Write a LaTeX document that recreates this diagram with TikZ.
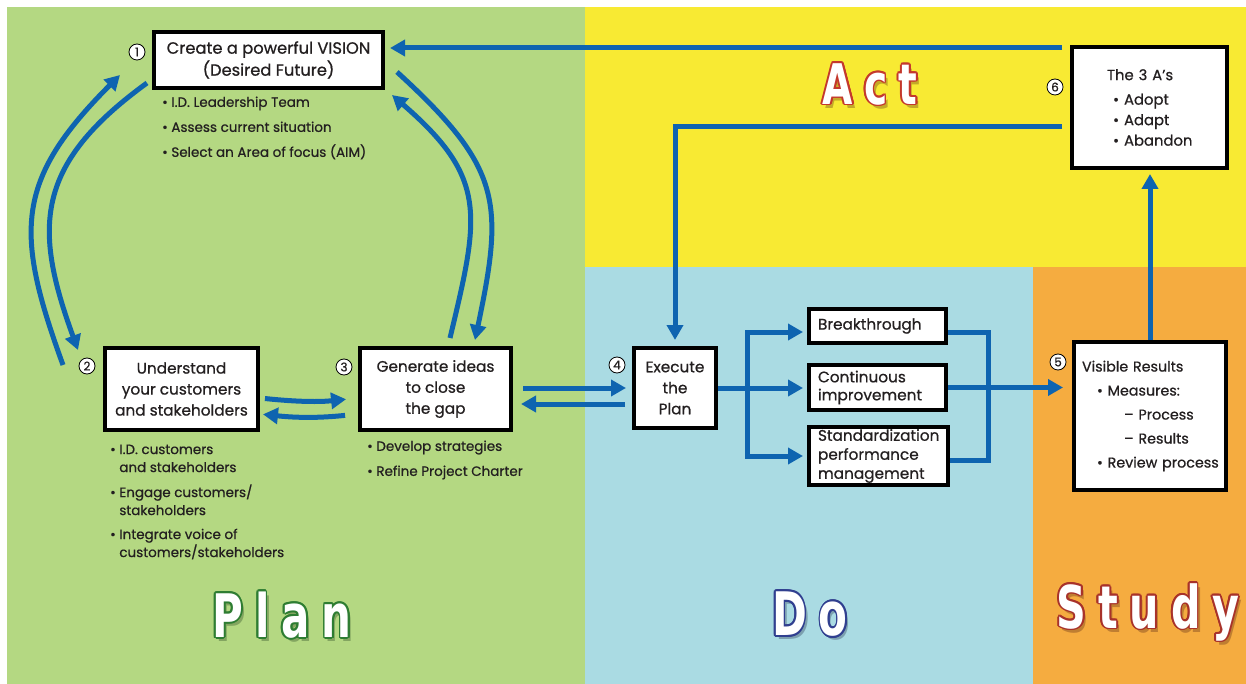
\documentclass[tikz,border=0pt]{standalone}
\usepackage{fontspec}
\setmainfont{Poppins}[FakeBold=0.7]
\newfontfamily\bigfont[FakeStretch=0.7,LetterSpace=20]{DejaVu Sans}
\usetikzlibrary{arrows.meta,calc}
\definecolor{plangreen}{HTML}{B4D882}
\definecolor{actyellow}{HTML}{F8EA33}
\definecolor{doblue}{HTML}{AADBE3}
\definecolor{studyorange}{HTML}{F5AC40}
\definecolor{flowblue}{HTML}{0E64B0}
\definecolor{txt}{HTML}{231F20}
\definecolor{plandark}{HTML}{2E7D32}
\definecolor{dodark}{HTML}{303F8F}
\definecolor{studydark}{HTML}{A8322A}
\definecolor{actdark}{HTML}{C4382C}
\newcommand{\boxfont}{\fontsize{15.3}{21}\selectfont}
\newcommand{\lstfont}{\fontsize{13.5}{18}\selectfont}
\newcommand{\numfont}{\fontsize{12}{12}\selectfont}
\newcommand{\biglabel}[6]{%
  \node[biglbl,font=\bigfont\bfseries\fontsize{#6}{#6}\selectfont,text=black!60!#4,opacity=.3] (#1s) at ({#2+3},{#3-4}) {#5};
  \foreach \a in {0,30,...,330}{\node[biglbl,font=\bigfont\bfseries\fontsize{#6}{#6}\selectfont,text=#4] (#1\a) at ({#2+1.8*cos(\a)},{#3+1.8*sin(\a)}) {#5};}
  \node[biglbl,font=\bigfont\bfseries\fontsize{#6}{#6}\selectfont,text=white] (#1) at (#2,#3) {#5};
}
\begin{document}
\begin{tikzpicture}[x=1pt,y=1pt,
  box/.style={draw=black, line width=4pt, fill=white, inner sep=0pt, font=\boxfont, text=txt, align=center},
  flow/.style={draw=flowblue, line width=5pt},
  arr/.style={flow, -{Triangle[width=16pt,length=15pt]}},
  num/.style={circle, draw=black, line width=0.8pt, fill=white, inner sep=0pt, minimum size=16pt, font=\numfont, text=txt},
  lst/.style={font=\lstfont, text=txt, align=left, inner sep=0pt},
  biglbl/.style={inner sep=0pt}
]
\useasboundingbox (0,0) rectangle (1246,-684);
\fill[white] (0,0) rectangle (1246,-684);
\fill[plangreen] (7,-7) rectangle (585,-684);
\fill[actyellow] (585,-7) rectangle (1246,-267);
\fill[doblue] (585,-267) rectangle (1033,-684);
\fill[studyorange] (1033,-267) rectangle (1246,-684);

% big labels
\biglabel{plan}{282}{-615}{plandark}{Plan}{60}
\biglabel{do}{810}{-614}{dodark}{Do}{60}
\biglabel{study}{1148}{-612}{studydark}{Study}{59}
\biglabel{act}{870}{-84}{actdark}{Act}{56}

% boxes
\node[box, minimum width=229, minimum height=56, font=\fontsize{16.3}{22}\selectfont] (b1) at (268.5,-60) {Create a powerful VISION\\(Desired Future)};
\node[box, minimum width=153, minimum height=82] (b2) at (181.5,-389) {Understand\\your customers\\and stakeholders};
\node[box, minimum width=151, minimum height=82] (b3) at (435.5,-389) {Generate ideas\\to close\\the gap};
\node[box, minimum width=82, minimum height=80] (b4) at (675,-388) {Execute\\the\\Plan};
\node[box, minimum width=137, minimum height=34, text width=119, align=left] (bt) at (877.5,-326) {Breakthrough};
\node[box, minimum width=137, minimum height=45, text width=119, align=left, font=\fontsize{15.3}{18}\selectfont] (ci) at (877.5,-387.5) {Continuous\\improvement};
\node[box, minimum width=139, minimum height=58, text width=121, align=left, font=\fontsize{15.3}{19}\selectfont] (sp) at (878.5,-456) {Standardization\\performance\\management};
\node[box, minimum width=152, minimum height=148, text width=136, align=left, font=\fontsize{14.3}{24}\selectfont] (vr) at (1150,-416) {\mbox{Visible Results}\\
\mbox{\hspace*{15pt}• Measures:}\\
\mbox{\hspace*{42pt}– Process}\\
\mbox{\hspace*{42pt}– Results}\\
\mbox{\hspace*{15pt}• Review process}};
\node[box, minimum width=155, minimum height=121, text width=85, align=left, font=\fontsize{14.8}{20.5}\selectfont] (a3) at (1149.5,-107.5) {\mbox{The 3 A’s}\\[4pt]
\mbox{\hspace*{6pt}• Adopt}\\
\mbox{\hspace*{6pt}• Adapt}\\
\mbox{\hspace*{6pt}• Abandon}};

% numbers
\node[num] (n1) at (137,-52) {1};
\node[num] (n2) at (87,-366) {2};
\node[num] (n3) at (344,-367) {3};
\node[num] (n4) at (617,-365) {4};
\node[num] (n5) at (1058,-362) {5};
\node[num] (n6) at (1055,-87) {6};

% lists
\node[lst, anchor=west] (l1) at (162,-128) {• I.D. Leadership Team\\[7pt]• Assess current situation\\[7pt]• Select an Area of focus (AIM)};
\node[lst, anchor=west] (l2) at (110,-502) {• I.D. customers\\
\phantom{• }and stakeholders\\[7pt]
• Engage customers/\\
\phantom{• }stakeholders\\[6pt]
• Integrate voice of\\
\phantom{• }customers/stakeholders};
\node[lst, anchor=west] (l3) at (367,-460) {• Develop strategies\\[7pt]• Refine Project Charter};

% top feedback arrows
\coordinate (t1) at (1062,-48);
\coordinate (t2) at (1062,-127);
\draw[arr, shorten >=5pt] (t1) -- (t1 -| b1.east);
\draw[arr, shorten >=6pt] (t2) -- (t2 -| b4.north) -- (b4.north);
\draw[arr, shorten >=4pt] (vr.north) -- (vr.north |- a3.south);

% branches
\coordinate (jt) at (747,-332);
\coordinate (jb) at (747,-456);
\coordinate (ct) at (988,-332);
\coordinate (cb) at (988,-460);
\draw[arr, shorten >=4pt] (jb) -- (jt) -- (jt -| bt.west);
\draw[arr, shorten >=4pt] (jt) -- (jb) -- (jb -| sp.west);
\draw[arr, shorten >=4pt] (b4.east) -- (b4.east -| ci.west);
\draw[flow] (ct -| bt.east) -- (ct) -- (cb) -- (cb -| sp.east);
\draw[arr, shorten >=9pt] (ci.east) -- (ci.east -| vr.west);

% between 3 and 4
\coordinate (u34) at (0,-388);
\coordinate (l34) at (0,-404);
\draw[arr, shorten <=10pt, shorten >=6pt] (b3.east |- u34) -- (b4.west |- u34);
\draw[arr, shorten <=7pt, shorten >=8pt] (b4.west |- l34) -- (b3.east |- l34);

% between 2 and 3
\coordinate (u23) at (0,-398);
\coordinate (l23) at (0,-414);
\draw[arr, shorten <=5pt, shorten >=12pt] (b2.east |- u23) to[bend right=6] (b3.west |- u23);
\draw[arr, shorten <=13pt, shorten >=3pt] (b3.west |- l23) to[bend left=6] (b2.east |- l23);

% arcs
\coordinate (lo1) at (63,-365);
\coordinate (lo2) at (120,-75);
\coordinate (li1) at (147,-83);
\coordinate (li2) at (78,-350);
\coordinate (ro1) at (397,-72);
\coordinate (ro2) at (475,-340);
\coordinate (ri1) at (450,-338);
\coordinate (ri2) at (392,-95);
\draw[arr] (lo1) .. controls (15,-233) and (14,-181) .. (lo2);
\draw[arr] (li1) .. controls (34,-165) and (33.5,-228) .. (li2);
\draw[arr] (ro1) .. controls (502,-168) and (504,-202) .. (ro2);
\draw[arr] (ri1) .. controls (479.6,-214.5) and (488,-178) .. (ri2);
\end{tikzpicture}
\end{document}
